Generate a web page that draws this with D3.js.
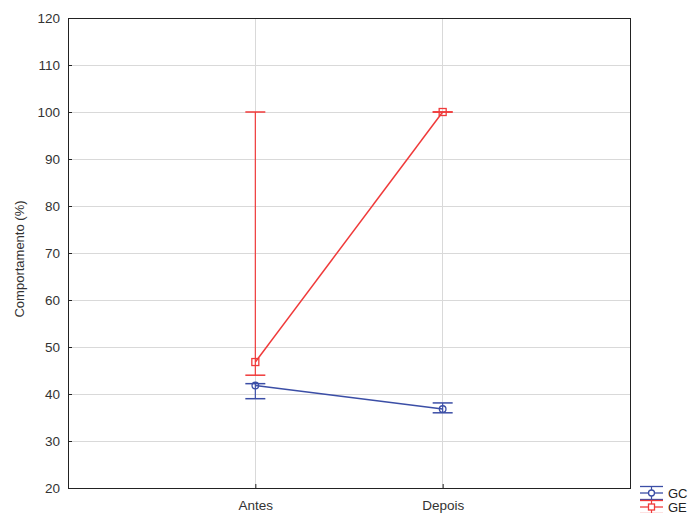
<!DOCTYPE html>
<html><head><meta charset="utf-8">
<script src="https://cdn.jsdelivr.net/npm/d3@7"></script>
<style>body{margin:0;background:#fff;} svg{display:block;font-family:"Liberation Sans",Arial,sans-serif;}</style>
</head><body>
<svg id="c" width="690" height="513"></svg>
<script>
const categories = ["Antes", "Depois"];
const yTicks = [20,30,40,50,60,70,80,90,100,110,120];
const gcMean = [41.8, 36.8];
const gcLow = [39.0, 36.0];
const gcHigh = [42.2, 38.1];
const geMean = [46.8, 100];
const geLow = [44.0, 100];
const geHigh = [100, 100];
const seriesNames = ["GC", "GE"];
const colors = {GC: "#3b4ea6", GE: "#f03a3a"};

const svg = d3.select("#c");
const L = 68, R = 630, T = 18, B = 488;
const x = d3.scalePoint().domain(categories).range([L, R]).padding(1);
const y = d3.scaleLinear().domain([20, 120]).range([B, T]);

// grid
svg.append("g").selectAll("line").data(yTicks.slice(1, -1)).join("line")
  .attr("x1", L).attr("x2", R).attr("y1", d => y(d)).attr("y2", d => y(d))
  .attr("stroke", "#d9d9d9").attr("stroke-width", 1).attr("shape-rendering", "crispEdges");
svg.append("g").selectAll("line").data(categories).join("line")
  .attr("x1", d => x(d)).attr("x2", d => x(d)).attr("y1", T).attr("y2", B)
  .attr("stroke", "#d9d9d9").attr("stroke-width", 1).attr("shape-rendering", "crispEdges");

// frame
svg.append("rect").attr("x", L).attr("y", T).attr("width", R - L).attr("height", B - T)
  .attr("fill", "none").attr("stroke", "#222").attr("stroke-width", 1).attr("shape-rendering", "crispEdges");

// axes
const yAxis = d3.axisLeft(y).tickValues(yTicks).tickSize(-4).tickPadding(8);
const gy = svg.append("g").attr("transform", `translate(${L},0)`).call(yAxis);
gy.select(".domain").remove();
gy.selectAll("line").attr("stroke", "#222");
gy.selectAll("text").attr("font-size", 13.5).attr("fill", "#333");

const xAxis = d3.axisBottom(x).tickSize(-4).tickPadding(12);
const gx = svg.append("g").attr("transform", `translate(0,${B})`).call(xAxis);
gx.select(".domain").remove();
gx.selectAll("line").attr("stroke", "#222");
gx.selectAll("text").attr("font-size", 13.5).attr("fill", "#333");

svg.append("text").attr("transform", `translate(24,${(T + B) / 2 + 6}) rotate(-90)`)
  .attr("text-anchor", "middle").attr("font-size", 13).attr("fill", "#333")
  .text("Comportamento (%)");

const series = [
  {name: "GC", mean: gcMean, low: gcLow, high: gcHigh, marker: "circle"},
  {name: "GE", mean: geMean, low: geLow, high: geHigh, marker: "square"}
];
const cap = 10;
series.forEach(s => {
  const c = colors[s.name];
  const g = svg.append("g");
  const pts = categories.map((k, i) => ({k, m: s.mean[i], lo: s.low[i], hi: s.high[i]}));
  g.selectAll("line.eb").data(pts).join("line").attr("class", "eb")
    .attr("x1", d => x(d.k)).attr("x2", d => x(d.k)).attr("y1", d => y(d.lo)).attr("y2", d => y(d.hi))
    .attr("stroke", c).attr("stroke-width", 1.2);
  ["lo", "hi"].forEach(f => {
    g.selectAll("line.cap" + f).data(pts).join("line")
      .attr("x1", d => x(d.k) - cap).attr("x2", d => x(d.k) + cap)
      .attr("y1", d => y(d[f])).attr("y2", d => y(d[f]))
      .attr("stroke", c).attr("stroke-width", 1.5);
  });
  g.append("path").datum(pts)
    .attr("d", d3.line().x(d => x(d.k)).y(d => y(d.m)))
    .attr("fill", "none").attr("stroke", c).attr("stroke-width", 1.5);
  if (s.marker === "circle") {
    g.selectAll("circle").data(pts).join("circle")
      .attr("cx", d => x(d.k)).attr("cy", d => y(d.m)).attr("r", 3.3)
      .attr("fill", "none").attr("stroke", c).attr("stroke-width", 1.3);
  } else {
    g.selectAll("rect").data(pts).join("rect")
      .attr("x", d => x(d.k) - 3.5).attr("y", d => y(d.m) - 3.5).attr("width", 7).attr("height", 7)
      .attr("fill", "none").attr("stroke", c).attr("stroke-width", 1.3);
  }
});

// legend
const lg = svg.append("g");
seriesNames.forEach((n, i) => {
  const c = colors[n];
  const cy = 493 + i * 14;
  const x0 = 640, x1 = 663, xm = (x0 + x1) / 2;
  lg.append("line").attr("x1", x0).attr("x2", x1).attr("y1", cy - 6.5).attr("y2", cy - 6.5).attr("stroke", c).attr("stroke-width", 1.3);
  lg.append("line").attr("x1", x0).attr("x2", x1).attr("y1", cy).attr("y2", cy).attr("stroke", c).attr("stroke-width", 1.3);
  lg.append("line").attr("x1", x0).attr("x2", x1).attr("y1", cy + 6.5).attr("y2", cy + 6.5).attr("stroke", c).attr("stroke-width", 1.3);
  lg.append("line").attr("x1", xm).attr("x2", xm).attr("y1", cy - 6.5).attr("y2", cy + 6.5).attr("stroke", c).attr("stroke-width", 1.2);
  if (i === 0) lg.append("circle").attr("cx", xm).attr("cy", cy).attr("r", 3).attr("fill", "#fff").attr("stroke", c).attr("stroke-width", 1.3);
  else lg.append("rect").attr("x", xm - 3).attr("y", cy - 3).attr("width", 6).attr("height", 6).attr("fill", "#fff").attr("stroke", c).attr("stroke-width", 1.3);
  lg.append("text").attr("x", 668).attr("y", cy + 4.5).attr("font-size", 13).attr("fill", "#222").text(n);
});
</script>
</body></html>
